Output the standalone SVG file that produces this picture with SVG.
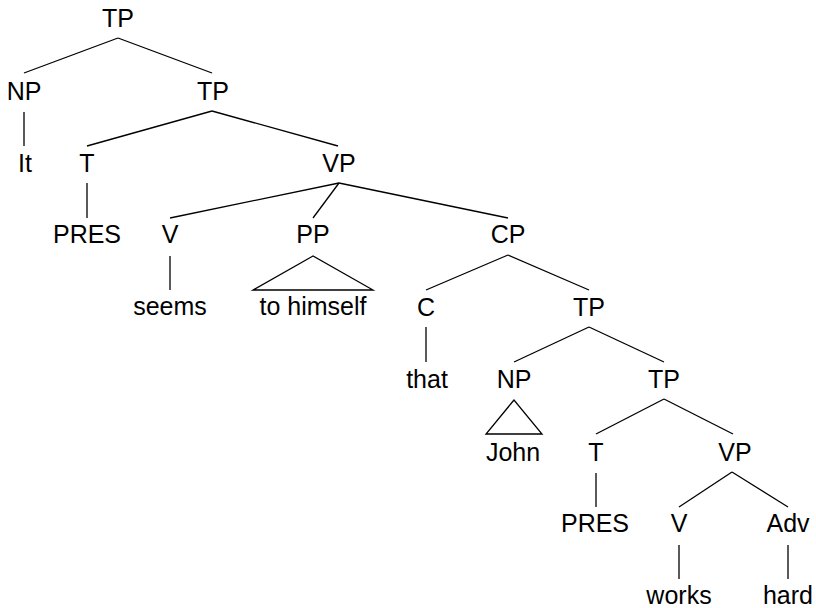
<svg xmlns="http://www.w3.org/2000/svg" width="816" height="608" viewBox="0 0 816 608">
<style>
text{font-family:"Liberation Sans",Arial,sans-serif;font-size:25px;fill:#000;text-anchor:middle}
line,polygon{stroke:#000;stroke-width:1.3;fill:none}
</style>
<rect width="816" height="608" fill="#fff"/>
<g id="connectors">
<line x1="118" y1="38" x2="24" y2="73"/>
<line x1="118" y1="38" x2="212" y2="73"/>
<line x1="24" y1="112" x2="24" y2="146"/>
<line x1="212" y1="111" x2="87" y2="146"/>
<line x1="212" y1="111" x2="338" y2="146"/>
<line x1="87" y1="183" x2="87" y2="218"/>
<line x1="339" y1="183" x2="170" y2="218"/>
<line x1="339" y1="183" x2="313" y2="218"/>
<line x1="339" y1="183" x2="508" y2="218"/>
<line x1="170" y1="256" x2="170" y2="290"/>
<polygon points="313,256 253,290 373,290"/>
<line x1="508" y1="255" x2="426" y2="290"/>
<line x1="508" y1="255" x2="589" y2="290"/>
<line x1="426" y1="327" x2="426" y2="362"/>
<line x1="589" y1="327" x2="514" y2="362"/>
<line x1="589" y1="327" x2="664" y2="362"/>
<polygon points="514,400 486,434 542,434"/>
<line x1="664" y1="399" x2="596" y2="434"/>
<line x1="664" y1="399" x2="733" y2="434"/>
<line x1="596" y1="473" x2="596" y2="507"/>
<line x1="732" y1="472" x2="679" y2="507"/>
<line x1="732" y1="472" x2="788" y2="507"/>
<line x1="679" y1="545" x2="679" y2="579"/>
<line x1="788" y1="545" x2="788" y2="579"/>
</g>
<g id="tp1"><text x="118" y="27">TP</text></g>
<g id="np1"><text x="24" y="100">NP</text></g>
<g id="tp2"><text x="213" y="100">TP</text></g>
<g id="it"><text x="25" y="172">It</text></g>
<g id="t1"><text x="87" y="172">T</text></g>
<g id="vp1"><text x="339" y="172">VP</text></g>
<g id="pres1"><text x="87" y="243">PRES</text></g>
<g id="v1"><text x="170" y="243">V</text></g>
<g id="pp"><text x="313" y="243">PP</text></g>
<g id="cp"><text x="508" y="243">CP</text></g>
<g id="seems"><text x="170" y="315">seems</text></g>
<g id="tohimself"><text x="313" y="315">to himself</text></g>
<g id="c"><text x="426" y="316">C</text></g>
<g id="tp3"><text x="589" y="316">TP</text></g>
<g id="that"><text x="427" y="388">that</text></g>
<g id="np2"><text x="514" y="388">NP</text></g>
<g id="tp4"><text x="664" y="388">TP</text></g>
<g id="john"><text x="513" y="461">John</text></g>
<g id="t2"><text x="596" y="461">T</text></g>
<g id="vp2"><text x="735" y="461">VP</text></g>
<g id="pres2"><text x="595" y="532">PRES</text></g>
<g id="v2"><text x="679" y="532">V</text></g>
<g id="adv"><text x="788" y="532">Adv</text></g>
<g id="works"><text x="679" y="604">works</text></g>
<g id="hard"><text x="788" y="604">hard</text></g>
</svg>
